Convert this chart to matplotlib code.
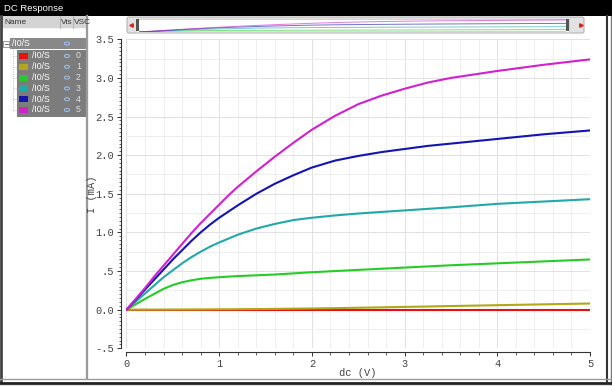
import matplotlib
matplotlib.use('Agg')
import matplotlib.pyplot as plt
import matplotlib.patches as mpatches
from matplotlib.ticker import MultipleLocator, FixedLocator, FixedFormatter
import numpy as np

# dane - napiecie dc (V) i prad I (mA) dla /I0/S 0..5
vdc = [0, 0.1, 0.2, 0.3, 0.4, 0.5, 0.6, 0.7, 0.8, 0.9, 1.0, 1.1, 1.2,
       1.4, 1.6, 1.8, 2.0, 2.25, 2.5, 2.75, 3.0, 3.25, 3.5, 4.0, 4.5, 5.0]

i_s0 = [0, 0, 0, 0, 0, 0, 0, 0, 0, 0, 0, 0, 0,
        0, 0, 0, 0, 0, 0, 0, 0, 0, 0, 0, 0, 0]
i_s1 = [0, 0, 0.001, 0.001, 0.001, 0.002, 0.002, 0.003, 0.003, 0.004, 0.005, 0.005, 0.006,
        0.008, 0.010, 0.013, 0.016, 0.020, 0.025, 0.030, 0.036, 0.041, 0.047, 0.058, 0.069, 0.080]
i_s2 = [0, 0.07, 0.14, 0.205, 0.27, 0.32, 0.355, 0.38, 0.40, 0.412, 0.42, 0.428, 0.435,
        0.445, 0.455, 0.47, 0.485, 0.50, 0.515, 0.53, 0.545, 0.56, 0.575, 0.60, 0.625, 0.65]
i_s3 = [0, 0.105, 0.21, 0.315, 0.42, 0.51, 0.60, 0.68, 0.75, 0.815, 0.87, 0.92, 0.97,
        1.05, 1.11, 1.16, 1.19, 1.22, 1.245, 1.265, 1.285, 1.305, 1.325, 1.37, 1.40, 1.43]
i_s4 = [0, 0.13, 0.26, 0.39, 0.52, 0.65, 0.77, 0.89, 1.00, 1.10, 1.19, 1.27, 1.35,
        1.50, 1.63, 1.74, 1.84, 1.93, 1.99, 2.04, 2.08, 2.12, 2.15, 2.21, 2.27, 2.32]
i_s5 = [0, 0.14, 0.28, 0.43, 0.57, 0.71, 0.85, 0.99, 1.12, 1.24, 1.36, 1.48, 1.59,
        1.79, 1.98, 2.16, 2.33, 2.51, 2.66, 2.77, 2.86, 2.94, 3.00, 3.09, 3.17, 3.24]

serie = [i_s0, i_s1, i_s2, i_s3, i_s4, i_s5]
kolory = ['#e81010', '#b0a818', '#26cc26', '#22a8a8', '#1414b0', '#d020d0']
nazwy = ['/I0/S'] * 6

yticks = [-0.5, 0.0, 0.5, 1.0, 1.5, 2.0, 2.5, 3.0, 3.5]
yticklabels = ['-.5', '0.0', '.5', '1.0', '1.5', '2.0', '2.5', '3.0', '3.5']
xticks = [0, 1, 2, 3, 4, 5]

W, H = 612, 386
mono = 'Liberation Mono'
sans = 'Liberation Sans'


def fig_box(x0, y0, x1, y1):
    # piksele obrazka (y od gory) -> wspolrzedne figury
    return [x0 / W, 1 - y1 / H, (x1 - x0) / W, (y1 - y0) / H]


fig = plt.figure(figsize=(6.12, 3.86), dpi=100)
fig.patch.set_facecolor('white')

############# RAMKA OKNA #############
bg = fig.add_axes([0, 0, 1, 1])
bg.set_xlim(0, W)
bg.set_ylim(H, 0)
bg.axis('off')

bg.add_patch(mpatches.Rectangle((0, 0), W, 16, fc='black', ec='none'))
bg.text(4, 8.5, 'DC Response', color='white', fontsize=6.8, va='center', ha='left', family=sans)

# naglowek panelu
bg.add_patch(mpatches.Rectangle((2, 16), 84, 12, fc='#d4d4d4', ec='none'))
bg.plot([2, 86], [28, 28], color='#f4f4f4', lw=0.8)
bg.plot([59.5, 59.5], [16, 28], color='#aaaaaa', lw=0.6)
bg.plot([72.5, 72.5], [16, 28], color='#aaaaaa', lw=0.6)
bg.text(4, 22.5, 'Name', fontsize=6, va='center', color='#333333', family=sans)
bg.text(61, 22.5, 'Vis', fontsize=6, va='center', color='#333333', family=sans)
bg.text(73.5, 22.5, 'VSC', fontsize=6, va='center', color='#333333', family=sans)

# separator i krawedzie
bg.plot([86.5, 86.5], [16, 378], color='#9a9a9a', lw=1.6)
bg.plot([1, 1], [16, 382], color='#444444', lw=2)
bg.plot([607, 607], [16, 381], color='#333333', lw=1.5)
bg.plot([611, 611], [16, 384], color='#777777', lw=1)
bg.plot([0, W], [378.5, 378.5], color='#9a9a9a', lw=1)
bg.plot([0, W], [382.5, 382.5], color='#222222', lw=2)
bg.plot([0, W], [385.5, 385.5], color='#666666', lw=1)

# drzewko z sygnalami
bg.add_patch(mpatches.Rectangle((10, 38), 76, 11, fc='#888888', ec='none'))
bg.add_patch(mpatches.Rectangle((3, 40.5), 6, 6, fc='white', ec='#888888', lw=0.6))
bg.plot([4.5, 7.5], [43.5, 43.5], color='#555555', lw=0.6)
bg.text(12, 43.5, nazwy[0], color='white', fontsize=6.3, va='center', family=sans)
bg.add_patch(mpatches.Ellipse((67, 43.5), 5, 3, fc='none', ec='#9cc8f0', lw=0.7))
bg.add_patch(mpatches.Rectangle((17, 49.5), 69, 67.5, fc='#7c7c7c', ec='none'))
bg.plot([13, 13], [49, 111], color='#aaaaaa', lw=0.6, ls=':')

for i in range(len(serie)):
    yr = 56 + i * 10.8
    bg.plot([13, 18], [yr, yr], color='#aaaaaa', lw=0.6, ls=':')
    bg.add_patch(mpatches.Rectangle((19, yr - 3), 9, 6, fc=kolory[i], ec='none'))
    bg.text(32, yr, nazwy[i], color='white', fontsize=6.3, va='center', family=sans)
    bg.add_patch(mpatches.Ellipse((67, yr), 5, 3, fc='none', ec='#9cc8f0', lw=0.7))
    bg.text(76, yr, str(i), color='#e0e0e0', fontsize=6.3, va='center', family=sans)

# pasek przewijania u gory
bg.add_patch(mpatches.FancyBboxPatch((127, 17), 457, 16, boxstyle='round,pad=0,rounding_size=2',
                                     fc='#e2e2e2', ec='#b4b4b4', lw=0.8))
bg.add_patch(mpatches.Rectangle((136, 18.5), 433, 13, fc='white', ec='#c8c8c8', lw=0.5))
bg.plot([130.5], [25], marker='<', color='#dd2222', ms=2.5)
bg.plot([580.5], [25], marker='>', color='#dd2222', ms=2.5)
bg.add_patch(mpatches.Rectangle((136, 19), 3, 12, fc='#555555', ec='none'))
bg.add_patch(mpatches.Rectangle((566, 19), 3, 12, fc='#555555', ec='none'))

podglad = fig.add_axes(fig_box(139, 19, 566, 32))
for i in range(len(serie)):
    podglad.plot(vdc, serie[i], color=kolory[i], lw=0.7, alpha=0.6)
podglad.set_xlim(0, 5)
podglad.set_ylim(0, 3.5)
podglad.axis('off')

############# WYKRES #############
ax = fig.add_axes(fig_box(126.5, 39.3, 590, 348.3))
ax.set_xlim(0, 5)
ax.set_ylim(-0.5, 3.5)

# siatka
for x in np.arange(0, 5.01, 0.2):
    kol = '#dcdcdc' if abs(x - round(x)) < 1e-6 else '#ececec'
    ax.axvline(x, color=kol, lw=0.6, zorder=0)
for y in np.arange(-0.5, 3.51, 0.25):
    kol = '#dcdcdc' if abs(y * 2 - round(y * 2)) < 1e-6 else '#ececec'
    ax.axhline(y, color=kol, lw=0.6, zorder=0)

for i in range(len(serie)):
    ax.plot(vdc, serie[i], color=kolory[i], lw=1.5, solid_joinstyle='round', zorder=3 + i)

ax.spines['top'].set_visible(False)
ax.spines['right'].set_visible(False)
ax.spines['left'].set_position(('outward', 4))
ax.spines['bottom'].set_position(('outward', 2.7))
ax.spines['left'].set_color('#333333')
ax.spines['bottom'].set_color('#333333')
ax.spines['left'].set_linewidth(0.8)
ax.spines['bottom'].set_linewidth(0.8)

ax.yaxis.set_major_locator(FixedLocator(yticks))
ax.yaxis.set_major_formatter(FixedFormatter(yticklabels))
ax.yaxis.set_minor_locator(MultipleLocator(0.05))
ax.xaxis.set_major_locator(FixedLocator(xticks))
ax.xaxis.set_minor_locator(MultipleLocator(0.2))

ax.tick_params(which='major', direction='out', length=3, width=0.7, colors='#333333', labelsize=7.5, pad=2)
ax.tick_params(which='minor', direction='out', length=1.8, width=0.6, colors='#444444')
for lbl in ax.get_xticklabels() + ax.get_yticklabels():
    lbl.set_family(mono)
    lbl.set_color('#444444')

fig.text(358 / W, 1 - 373 / H, 'dc (V)', family=mono, fontsize=7.5, color='#444444', ha='center', va='center')
fig.text(92 / W, 1 - 194 / H, 'I (mA)', family=mono, fontsize=7.5, color='#444444',
         ha='center', va='center', rotation=90)

plt.savefig('out.png', dpi=100)
